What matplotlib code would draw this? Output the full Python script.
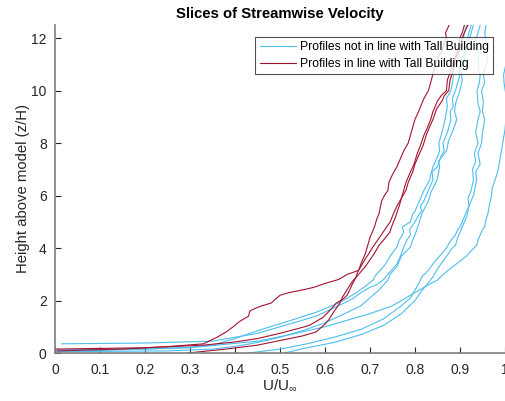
import matplotlib
matplotlib.use('Agg')
import matplotlib.pyplot as plt

plt.rcParams['font.family'] = ['Liberation Sans', 'DejaVu Sans']
plt.rcParams['mathtext.fontset'] = 'custom'
plt.rcParams['mathtext.rm'] = 'Liberation Sans'
plt.rcParams['mathtext.it'] = 'Liberation Sans:italic'

BLUE = '#4DBEEE'
RED = '#A2142F'

# profiles not in line with the tall building (U/Uinf against z/H)
blue_u = [
    [0.015, 0.2, 0.35, 0.45, 0.52, 0.58, 0.63, 0.66, 0.68, 0.7, 0.715, 0.729, 0.74, 0.745, 0.755, 0.76,
     0.768, 0.775, 0.782, 0.79, 0.788, 0.8, 0.81, 0.815, 0.812, 0.82, 0.83, 0.84, 0.838, 0.85, 0.858,
     0.865, 0.862, 0.872, 0.88, 0.878, 0.885, 0.883, 0.89, 0.895, 0.9, 0.898, 0.905, 0.912, 0.915, 0.92, 0.925],
    [0.0, 0.2, 0.3, 0.35, 0.4, 0.45, 0.52, 0.58, 0.63, 0.65, 0.67, 0.69, 0.707, 0.712, 0.72, 0.728, 0.735,
     0.745, 0.76, 0.765, 0.775, 0.772, 0.79, 0.795, 0.8, 0.81, 0.82, 0.833, 0.835, 0.84, 0.848, 0.855,
     0.853, 0.86, 0.867, 0.872, 0.87, 0.88, 0.885, 0.883, 0.895, 0.9, 0.905, 0.91, 0.915],
    [0.0, 0.25, 0.35, 0.4, 0.45, 0.5, 0.55, 0.6, 0.65, 0.68, 0.7, 0.72, 0.74, 0.745, 0.76, 0.765, 0.77,
     0.79, 0.795, 0.8, 0.81, 0.815, 0.83, 0.835, 0.849, 0.855, 0.852, 0.87, 0.875, 0.885, 0.893, 0.888,
     0.89, 0.9, 0.905, 0.902, 0.91, 0.912, 0.918, 0.925, 0.93],
    [0.43, 0.5, 0.56, 0.62, 0.68, 0.73, 0.77, 0.79, 0.8, 0.81, 0.815, 0.83, 0.84, 0.855, 0.87, 0.88, 0.89,
     0.895, 0.9, 0.91, 0.92, 0.918, 0.925, 0.93, 0.928, 0.935, 0.932, 0.94, 0.935, 0.94, 0.945, 0.94,
     0.938, 0.943, 0.945, 0.94, 0.942, 0.938, 0.935, 0.94, 0.945],
    [0.51, 0.56, 0.62, 0.68, 0.73, 0.77, 0.8, 0.812, 0.826, 0.84, 0.85, 0.862, 0.875, 0.88, 0.89, 0.895,
     0.905, 0.915, 0.92, 0.93, 0.937, 0.935, 0.945, 0.94, 0.948, 0.95, 0.955, 0.95, 0.952, 0.948, 0.955,
     0.952, 0.958, 0.962, 0.955, 0.958, 0.955, 0.958],
    [0.0, 0.3, 0.45, 0.52, 0.6, 0.7, 0.75, 0.78, 0.81, 0.83, 0.85, 0.86, 0.87, 0.885, 0.9, 0.915, 0.925,
     0.937, 0.94, 0.945, 0.95, 0.955, 0.958, 0.962, 0.965, 0.97, 0.972, 0.978, 0.982, 0.985, 0.99, 0.995,
     1.0, 1.005, 0.998, 0.997, 1.002, 1.01, 1.03],
]
blue_z = [
    [0.35, 0.38, 0.45, 0.75, 1.1, 1.4, 1.8, 2.05, 2.3, 2.5, 2.6, 2.78, 3.0, 3.1, 3.3, 3.4, 3.7, 4.04, 4.3,
     4.5, 4.7, 5.0, 5.3, 5.4, 5.6, 5.8, 6.2, 6.6, 6.9, 7.1, 7.5, 7.7, 8.0, 8.4, 8.9, 9.2, 9.4, 9.7, 10.0,
     10.3, 10.6, 10.9, 11.2, 11.6, 11.9, 12.2, 12.5],
    [0.12, 0.15, 0.22, 0.3, 0.55, 0.85, 1.22, 1.55, 1.9, 2.1, 2.3, 2.55, 2.78, 2.95, 3.1, 3.25, 3.4, 3.7,
     4.04, 4.3, 4.6, 4.8, 5.0, 5.3, 5.4, 5.8, 6.2, 6.6, 6.8, 7.1, 7.4, 7.7, 8.0, 8.4, 8.9, 9.4, 9.7, 10.0,
     10.5, 10.8, 11.2, 11.5, 11.8, 12.2, 12.5],
    [0.05, 0.08, 0.15, 0.25, 0.4, 0.6, 0.85, 1.15, 1.55, 1.8, 2.1, 2.4, 2.78, 3.0, 3.3, 3.5, 3.7, 4.04,
     4.3, 4.5, 5.0, 5.3, 5.8, 6.1, 6.6, 7.1, 7.3, 7.7, 8.1, 8.5, 8.9, 9.2, 9.5, 10.0, 10.4, 10.8, 11.2,
     11.5, 11.8, 12.2, 12.5],
    [0.0, 0.15, 0.35, 0.6, 0.9, 1.3, 1.8, 2.1, 2.4, 2.7, 2.9, 3.15, 3.4, 3.7, 4.0, 4.3, 4.5, 4.7, 4.8, 5.2,
     5.6, 5.9, 6.2, 6.6, 7.0, 7.3, 7.6, 8.0, 8.4, 8.9, 9.2, 9.5, 10.0, 10.3, 10.6, 10.9, 11.2, 11.6, 11.9,
     12.2, 12.5],
    [0.0, 0.2, 0.4, 0.7, 1.05, 1.5, 2.0, 2.3, 2.6, 2.9, 3.2, 3.5, 3.8, 3.95, 4.1, 4.4, 4.8, 5.2, 5.6, 6.0,
     6.6, 6.9, 7.2, 7.6, 8.0, 8.4, 8.9, 9.2, 9.6, 10.0, 10.3, 10.6, 11.0, 11.2, 11.6, 11.9, 12.2, 12.5],
    [0.05, 0.2, 0.45, 0.69, 1.0, 1.5, 1.8, 2.1, 2.4, 2.6, 2.78, 2.95, 3.1, 3.3, 3.5, 3.7, 3.9, 4.1, 4.3,
     4.5, 4.7, 4.8, 5.1, 5.3, 5.6, 6.0, 6.3, 6.6, 6.8, 7.0, 7.5, 8.0, 8.5, 9.5, 10.3, 10.6, 11.0, 11.5, 12.5],
]

# profiles in line with the tall building
red_u = [
    [0.005, 0.15, 0.256, 0.33, 0.36, 0.38, 0.396, 0.41, 0.43, 0.433, 0.445, 0.46, 0.48, 0.49, 0.5, 0.52,
     0.549, 0.575, 0.6, 0.63, 0.65, 0.675, 0.68, 0.685, 0.69, 0.695, 0.7, 0.705, 0.71, 0.715, 0.72, 0.726,
     0.732, 0.74, 0.742, 0.75, 0.76, 0.77, 0.775, 0.785, 0.79, 0.8, 0.808, 0.815, 0.82, 0.83, 0.838, 0.845,
     0.852, 0.86, 0.865, 0.87, 0.868, 0.876],
    [0.295, 0.38, 0.45, 0.507, 0.55, 0.58, 0.6, 0.61, 0.615, 0.625, 0.633, 0.638, 0.645, 0.656, 0.662, 0.67,
     0.68, 0.69, 0.7, 0.71, 0.72, 0.73, 0.744, 0.75, 0.755, 0.765, 0.77, 0.775, 0.78, 0.79, 0.798, 0.805,
     0.812, 0.82, 0.828, 0.835, 0.84, 0.85, 0.858, 0.87, 0.872, 0.88, 0.885, 0.895, 0.898, 0.9, 0.905, 0.91],
    [0.0, 0.2, 0.33, 0.4, 0.45, 0.5, 0.544, 0.565, 0.58, 0.595, 0.604, 0.615, 0.625, 0.64, 0.649, 0.655,
     0.66, 0.668, 0.673, 0.68, 0.69, 0.698, 0.705, 0.715, 0.725, 0.735, 0.745, 0.752, 0.76, 0.77, 0.78,
     0.785, 0.795, 0.8, 0.81, 0.818, 0.825, 0.832, 0.84, 0.848, 0.86, 0.865, 0.875, 0.878, 0.885, 0.89,
     0.9, 0.903, 0.905, 0.912, 0.918],
]
red_z = [
    [0.08, 0.15, 0.25, 0.35, 0.6, 0.8, 1.0, 1.2, 1.4, 1.6, 1.7, 1.8, 1.9, 2.05, 2.2, 2.3, 2.4, 2.5, 2.65,
     2.8, 3.0, 3.15, 3.4, 3.6, 3.8, 4.1, 4.4, 4.6, 4.8, 5.1, 5.3, 5.8, 6.0, 6.2, 6.5, 6.8, 7.1, 7.5, 7.7,
     8.0, 8.3, 8.9, 9.2, 9.5, 9.7, 10.0, 10.5, 11.0, 11.3, 11.5, 11.8, 12.0, 12.2, 12.5],
    [0.0, 0.15, 0.3, 0.5, 0.65, 0.8, 1.1, 1.3, 1.45, 1.7, 1.9, 2.1, 2.3, 2.6, 2.75, 2.9, 3.1, 3.3, 3.55,
     3.8, 4.1, 4.3, 4.6, 4.9, 5.1, 5.6, 5.9, 6.2, 6.5, 6.9, 7.2, 7.6, 7.9, 8.3, 8.6, 8.9, 9.2, 9.6, 9.8,
     10.0, 10.4, 10.8, 11.1, 11.5, 11.8, 12.0, 12.2, 12.5],
    [0.15, 0.2, 0.3, 0.42, 0.55, 0.75, 0.95, 1.05, 1.2, 1.35, 1.5, 1.7, 1.9, 2.05, 2.2, 2.4, 2.6, 2.85,
     3.1, 3.3, 3.6, 3.8, 4.0, 4.25, 4.5, 4.75, 5.0, 5.3, 5.6, 5.9, 6.2, 6.5, 6.9, 7.2, 7.6, 7.9, 8.3, 8.6,
     8.9, 9.3, 9.6, 9.8, 10.0, 10.4, 10.8, 11.2, 11.6, 11.8, 12.0, 12.3, 12.5],
]

x_ticks = [0, 0.1, 0.2, 0.3, 0.4, 0.5, 0.6, 0.7, 0.8, 0.9, 1]
x_tick_labels = ['0', '0.1', '0.2', '0.3', '0.4', '0.5', '0.6', '0.7', '0.8', '0.9', '1']
y_ticks = [0, 2, 4, 6, 8, 10, 12]

fig = plt.figure(figsize=(5.05, 4.01), dpi=100)
ax = fig.add_axes([0.1089, 0.1197, 0.891, 0.818])

for i, (u, z) in enumerate(zip(blue_u, blue_z)):
    ax.plot(u, z, color=BLUE, lw=0.8,
            label='Profiles not in line with Tall Building' if i == 0 else None)
for i, (u, z) in enumerate(zip(red_u, red_z)):
    ax.plot(u, z, color=RED, lw=0.8,
            label='Profiles in line with Tall Building' if i == 0 else None)

ax.set_xlim(0, 1)
ax.set_ylim(0, 12.5)
ax.set_xticks(x_ticks)
ax.set_xticklabels(x_tick_labels)
ax.set_yticks(y_ticks)
ax.tick_params(direction='in', length=4, width=0.8, colors='#262626',
               labelsize=10, labelcolor='#262626')
ax.tick_params(axis='x', pad=7)
ax.tick_params(axis='y', pad=6)
for side in ['top', 'right']:
    ax.spines[side].set_visible(False)
for side in ['left', 'bottom']:
    ax.spines[side].set_color('#7f7f7f')
    ax.spines[side].set_linewidth(1.2)

ax.set_title('Slices of Streamwise Velocity', fontsize=10.7, fontweight='bold',
             color='black', pad=5)
ax.set_xlabel(r'U/U$_\infty$', fontsize=11, color='#262626', labelpad=0.5)
ax.set_ylabel('Height above model (z/H)', fontsize=10.7, color='#262626', labelpad=1)

leg = ax.legend(loc='upper right', bbox_to_anchor=(0.973, 0.963), fontsize=8.7,
                frameon=True, fancybox=False, borderpad=0.35, handlelength=3.0,
                handletextpad=0.3, labelspacing=0.4, borderaxespad=0)
leg.get_frame().set_edgecolor('#262626')
leg.get_frame().set_linewidth(0.8)

plt.savefig('out.png', dpi=100)
